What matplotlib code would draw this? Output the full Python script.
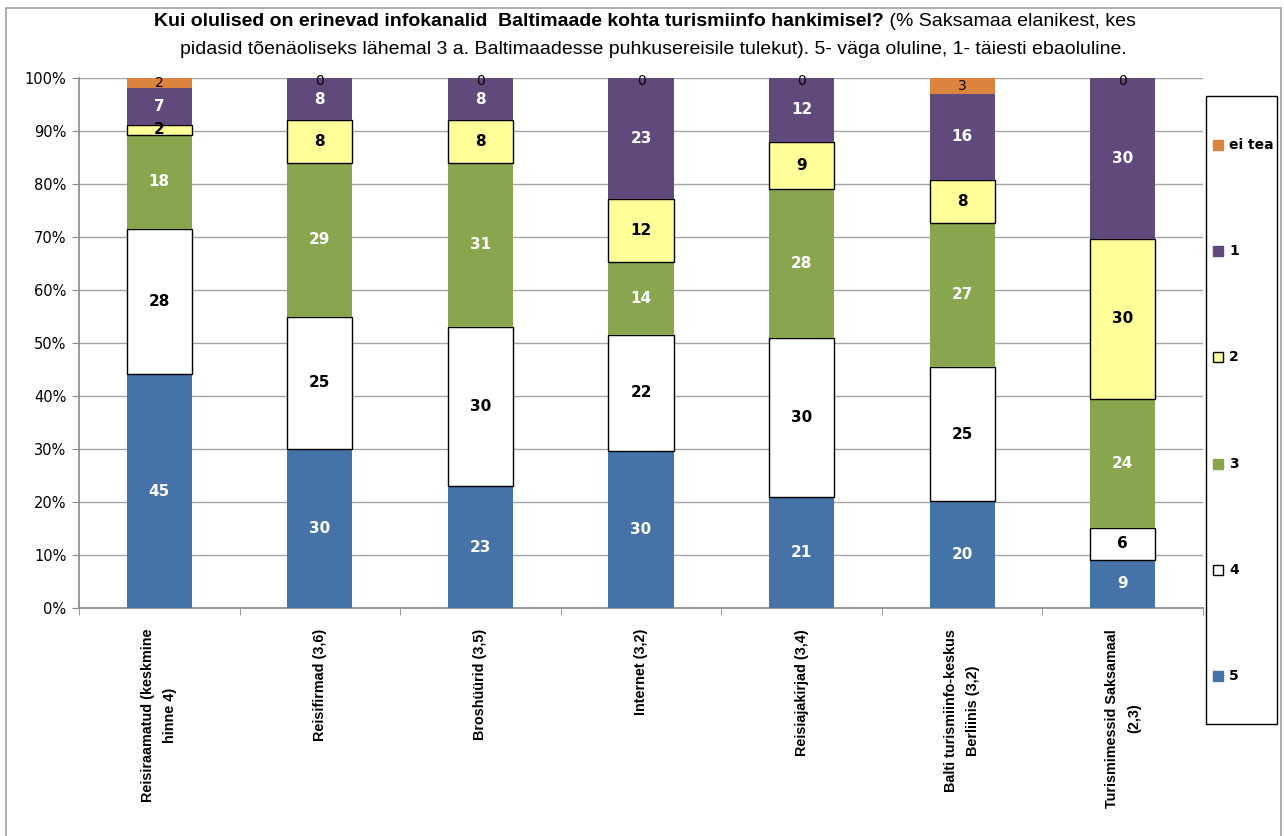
import numpy as np
import matplotlib.pyplot as plt
from matplotlib.patches import Rectangle

categories = ['Reisiraamatud (keskmine\nhinne 4)', 'Reisifirmad (3,6)', 'Broshüürid (3,5)',
              'Internet (3,2)', 'Reisiajakirjad (3,4)', 'Balti turismiinfo-keskus\nBerliinis (3,2)',
              'Turismimessid Saksamaal\n(2,3)']
series = ['5', '4', '3', '2', '1', 'ei tea']
v5 = [45, 30, 23, 30, 21, 20, 9]
v4 = [28, 25, 30, 22, 30, 25, 6]
v3 = [18, 29, 31, 14, 28, 27, 24]
v2 = [2, 8, 8, 12, 9, 8, 30]
v1 = [7, 8, 8, 23, 12, 16, 30]
v_eitea = [2, 0, 0, 0, 0, 3, 0]

colors = ['#4572A7', '#FFFFFF', '#89A54E', '#FFFF99', '#604A7B', '#DB843D']
edges = ['none', 'black', 'none', 'black', 'none', 'none']
txt_colors = ['white', 'black', 'white', 'black', 'white', 'black']

data = np.array([v5, v4, v3, v2, v1, v_eitea], dtype=float)
pct = data / data.sum(axis=0) * 100

W, H = 1284, 836
fig = plt.figure(figsize=(W / 100, H / 100), dpi=100)
ax = fig.add_axes([79/W, 1 - 608/H, 1124/W, 530/H])

x = np.arange(len(categories))
bottom = np.zeros(len(categories))
for i, s in enumerate(series):
    ax.bar(x, pct[i], bottom=bottom, width=0.405, color=colors[i],
           edgecolor=edges[i], linewidth=1.0, zorder=3)
    for j in range(len(categories)):
        if i == 5:
            yc = bottom[j] + pct[i][j] / 2 if data[i][j] > 0 else 99.5
            ax.text(x[j], yc, '%d' % data[i][j], ha='center', va='center',
                    fontsize=10, color='black', zorder=5)
        else:
            ax.text(x[j], bottom[j] + pct[i][j] / 2, '%d' % data[i][j], ha='center',
                    va='center', fontsize=11, fontweight='bold', color=txt_colors[i], zorder=5)
    bottom += pct[i]

ax.set_xlim(-0.5, 6.5)
ax.set_ylim(0, 100)
ax.set_yticks(np.arange(0, 101, 10))
ax.set_yticklabels(['%d%%' % t for t in range(0, 101, 10)], fontsize=10.5)
ax.yaxis.grid(True, color='#A6A6A6', linewidth=1.0, zorder=0)
ax.set_axisbelow(True)
ax.tick_params(axis='y', length=5, color='#888888', pad=4)

ax.set_xticks(x)
ax.set_xticklabels(categories, rotation=90, fontsize=10.4, fontweight='bold',
                   family='Liberation Sans', va='top', ha='center',
                   multialignment='center', linespacing=1.75)
ax.set_xticks(np.arange(-0.5, 7, 1), minor=True)
ax.tick_params(axis='x', which='major', length=0, pad=15)
ax.tick_params(axis='x', which='minor', length=5, color='#888888')

for sp in ['top', 'right']:
    ax.spines[sp].set_visible(False)
for sp in ['left', 'bottom']:
    ax.spines[sp].set_color('#888888')
    ax.spines[sp].set_linewidth(1.2)

# legend box drawn by hand, reversed order like the original
fig.patches.append(Rectangle((1206/W, 1 - 724/H), 71/W, 628/H, transform=fig.transFigure,
                             fill=False, edgecolor='black', linewidth=1.0))
for k, i in enumerate(range(len(series) - 1, -1, -1)):
    yc = 145 + k * 106.2
    fig.patches.append(Rectangle((1213/W, 1 - (yc + 5)/H), 10/W, 10/H, transform=fig.transFigure,
                                 facecolor=colors[i],
                                 edgecolor='black' if edges[i] == 'black' else colors[i],
                                 linewidth=1.0))
    fig.text(1229/W, 1 - yc/H, series[i], fontsize=10, fontweight='bold',
             va='center', ha='left')

# title with bold first part
tfont = 'Liberation Sans'
t1 = fig.text(0, 1 - 22/H, 'Kui olulised on erinevad infokanalid  Baltimaade kohta turismiinfo hankimisel?',
              fontsize=14, fontweight='bold', family=tfont, va='center', ha='left')
t2 = fig.text(0, 1 - 22/H, ' (% Saksamaa elanikest, kes',
              fontsize=14, family=tfont, va='center', ha='left')
r = fig.canvas.get_renderer()
w1 = t1.get_window_extent(r).width
w2 = t2.get_window_extent(r).width
x0 = 645 - (w1 + w2) / 2
t1.set_x(x0 / W)
t2.set_x((x0 + w1) / W)
fig.text(653/W, 1 - 50/H,
         'pidasid tõenäoliseks lähemal 3 a. Baltimaadesse puhkusereisile tulekut). 5- väga oluline, 1- täiesti ebaoluline.',
         fontsize=14, family=tfont, va='center', ha='center')

# outer chart border
fig.patches.append(Rectangle((6/W, -0.01), 1275/W, 1 - 8/H + 0.01, transform=fig.transFigure,
                             fill=False, edgecolor='#A0A0A0', linewidth=1.2))

fig.savefig('out.png', dpi=100)
